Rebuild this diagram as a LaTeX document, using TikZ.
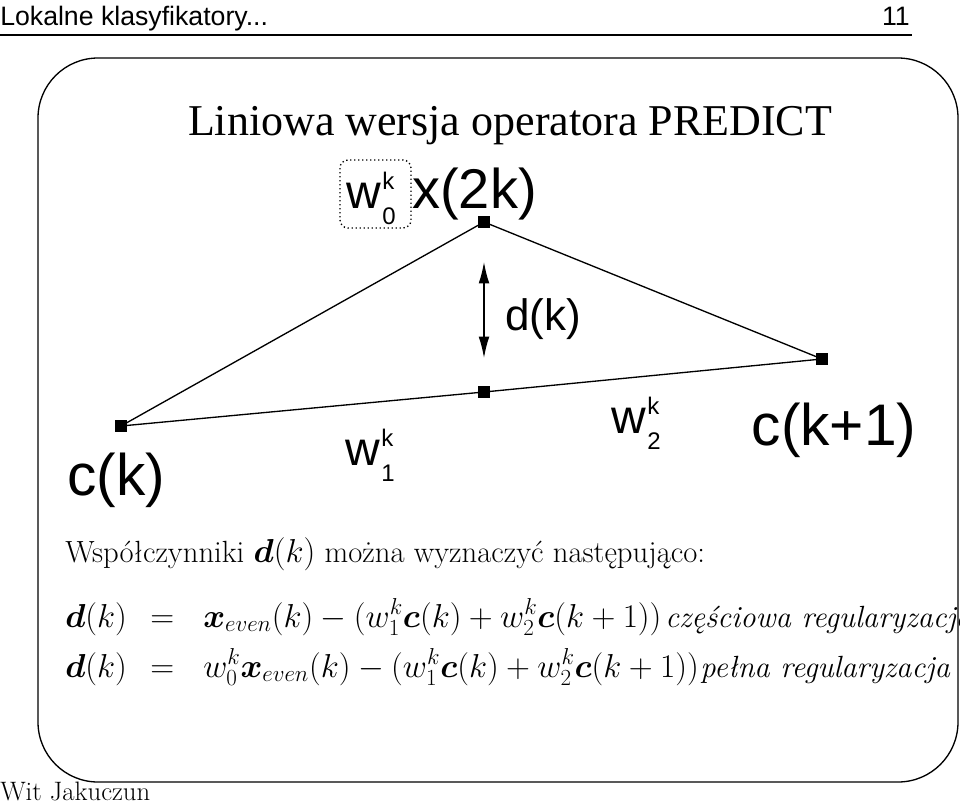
\documentclass[tikz,border=0pt]{standalone}
\usepackage{amsmath}
\usepackage{fontspec}
\usetikzlibrary{arrows.meta}
\newfontfamily\hel{Liberation Sans}
\newfontfamily\tim{Liberation Serif}
\newcommand{\wlab}[2]{w\hspace{1pt}\raisebox{-12pt}{\fontsize{18}{18}\selectfont #1}\hspace{-10pt}\raisebox{14pt}{\fontsize{18}{18}\selectfont #2}}
\begin{document}
\begin{tikzpicture}[x=0.75pt,y=-0.75pt,
  pt/.style={fill=black,minimum size=9pt,inner sep=0pt},
  lab/.style={font=\hel\fontsize{44}{48}\selectfont,inner sep=0pt},
  smlab/.style={font=\hel\fontsize{36}{40}\selectfont,inner sep=0pt},
  body/.style={font=\fontsize{23}{26}\selectfont,anchor=base west,inner sep=0pt}]
\useasboundingbox (0,0) rectangle (960,804);
\node[anchor=base west,inner sep=0pt,font=\hel\fontsize{20}{22}\selectfont] (hdr) at (0,25) {Lokalne klasyfikatory...};
\node[anchor=base east,inner sep=0pt,font=\hel\fontsize{20}{22}\selectfont] (pg) at (910,25) {11};
\draw[line width=0.8pt] (0,35) -- (912,35);
\draw[line width=1pt,rounded corners=45pt] (38,58) rectangle (958,782);
\node[inner sep=0pt,font=\tim\fontsize{33}{36}\selectfont,anchor=base] (title) at (510,135) {Liniowa wersja operatora PREDICT};
\node[pt] (x) at (484,222) {};
\node[pt] (c) at (121,426) {};
\node[pt] (m) at (484,392) {};
\node[pt] (c1) at (822,359) {};
\draw[line width=1pt] (c.center) -- (x.center) -- (c1.center);
\draw[line width=1pt] (c.center) -- (m.center) -- (c1.center);
\coordinate (a1) at (484,262); \coordinate (a2) at (484,358);
\draw[line width=1pt,{Latex[length=16pt,width=8pt]}-{Latex[length=16pt,width=8pt]}] (a1) -- (a2);
\node[font=\hel\fontsize{33}{36}\selectfont,inner sep=0pt,anchor=base west] (d) at (505,330) {d(k)};
\node[font=\hel\fontsize{42}{44}\selectfont,inner sep=0pt,anchor=base west] (xl) at (412,208) {x(2k)};
\node[smlab,anchor=base west] (w0) at (346,208) {\wlab{0}{k}};
\draw[dotted,line width=1pt,rounded corners=6pt] (340,160) rectangle (411,228);
\node[lab,anchor=base] (cl) at (116,495) {c(k)};
\node[lab,anchor=base] (c1l) at (834,445) {c(k+1)};
\node[smlab,anchor=base west] (w1) at (345,465) {\wlab{1}{k}};
\node[smlab,anchor=base west] (w2) at (611,433) {\wlab{2}{k}};
\node[body] (t1) at (65,562) {Współczynniki $\boldsymbol{d}(k)$ można wyznaczyć następująco:};
\node[body] (e1a) at (65,627) {$\boldsymbol{d}(k)$};
\node[body] (e1b) at (150,627) {$=$};
\node[body] (e1c) at (203,627) {$\boldsymbol{x}_{even}(k) - (w_1^k\boldsymbol{c}(k)+w_2^k\boldsymbol{c}(k+1))$};
\node[body] (e1d) at (665,627) {\textit{częściowa regularyzacja}};
\node[body] (e2a) at (65,677) {$\boldsymbol{d}(k)$};
\node[body] (e2b) at (150,677) {$=$};
\node[body] (e2c) at (203,677) {$w_0^k\boldsymbol{x}_{even}(k) - (w_1^k\boldsymbol{c}(k)+w_2^k\boldsymbol{c}(k+1))$};
\node[body] (e2d) at (700,677) {\textit{pełna regularyzacja}};
\node[anchor=base west,inner sep=0pt,font=\fontsize{20}{22}\selectfont] (ft) at (0,800) {Wit Jakuczun};
\end{tikzpicture}
\end{document}
